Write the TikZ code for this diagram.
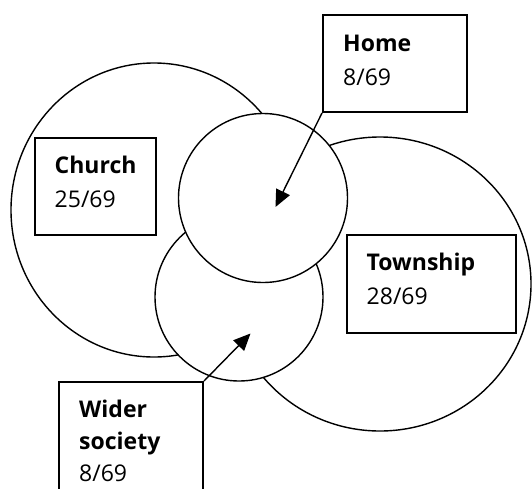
\documentclass[tikz,border=0pt]{standalone}
\usepackage{fontspec}
\setmainfont{Open Sans}
\usetikzlibrary{positioning,calc,arrows.meta}
\tikzset{>={Triangle[length=17pt,width=15pt]}}
\tikzset{
  ring/.style={line width=1.4pt},
  box/.style={draw,line width=2pt,fill=white,inner sep=0pt},
  lbl/.style={align=left,inner sep=0pt,anchor=base west,
    font=\fontsize{23}{34}\selectfont}
}

\begin{document}
\begin{tikzpicture}[x=1pt,y=-1pt]
\useasboundingbox (0,0) rectangle (532,488);
% Draw the four regions
\draw[ring] (154,210) ellipse [x radius=143, y radius=147];
\draw[ring] (380,284) ellipse [x radius=151, y radius=147];
\draw[ring,fill=white] (239,297) circle (84);
\draw[ring,fill=white] (263,198) circle (84.5);

% Boxes with their counts (label anchored on its last line)
\node[box,minimum width=144,minimum height=97] (home) at (395,63.5) {};
\node[lbl] (homet) at ($(home.north west)+(21,71.5)$) {\textbf{Home}\\8/69};
\node[box,minimum width=121,minimum height=97] (church) at (95,186) {};
\node[lbl] (churcht) at ($(church.north west)+(21,70.5)$) {\textbf{Church}\\25/69};
\node[box,minimum width=169,minimum height=98] (town) at (431,284) {};
\node[lbl] (townt) at ($(town.north west)+(21,70.5)$) {\textbf{Township}\\28/69};
\node[box,minimum width=144,minimum height=130] (wide) at (131,447) {};
\node[lbl,font=\fontsize{23}{32}\selectfont] (widet) at ($(wide.north west)+(21,100)$)
  {\textbf{Wider}\\\textbf{society}\\8/69};

% Arrows into the circles
\coordinate (hometip) at (275.5,207);
\coordinate (widetip) at (250.5,333.5);
\draw[ring,->] (home.south west) -- (hometip);
\draw[ring,->] (wide.north east) -- (widetip);
\end{tikzpicture}
\end{document}
